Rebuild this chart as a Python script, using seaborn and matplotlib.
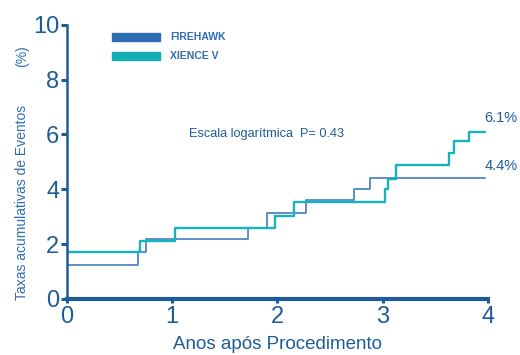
import matplotlib
matplotlib.use("Agg")
import matplotlib.pyplot as plt
import seaborn as sns
import pandas as pd

# Cumulative event rates (%) by years after the procedure
firehawk_years = [0.0, 0.674, 0.75, 1.72, 1.90, 2.27, 2.73, 2.88, 3.97]
firehawk_rate = [1.24, 1.70, 2.19, 2.60, 3.12, 3.60, 4.00, 4.4, 4.4]

xience_years = [0.0, 0.697, 1.03, 1.98, 2.16, 3.02, 3.05, 3.13, 3.63, 3.68, 3.82, 3.97]
xience_rate = [1.70, 2.13, 2.58, 3.03, 3.55, 4.00, 4.38, 4.87, 5.34, 5.78, 6.1, 6.1]

series_names = ["FIREHAWK", "XIENCE V"]
x_ticks = [0, 1, 2, 3, 4]
y_ticks = [0, 2, 4, 6, 8, 10]

sns.set_style("white")
plt.rcParams["font.family"] = ["Liberation Sans", "DejaVu Sans"]

DARK = "#1d5c99"
BLUE_LINE = "#5286c4"
CYAN_LINE = "#17b3bd"
BLUE_KEY = "#2f6db3"
CYAN_KEY = "#12adb5"

df = pd.concat([
    pd.DataFrame({"anos": firehawk_years, "taxa": firehawk_rate, "stent": series_names[0]}),
    pd.DataFrame({"anos": xience_years, "taxa": xience_rate, "stent": series_names[1]}),
], ignore_index=True)

fig = plt.figure(figsize=(5.2, 3.55), dpi=100)
ax = fig.add_axes([0.129, 0.158, 0.809, 0.772])

sns.lineplot(data=df[df.stent == series_names[0]], x="anos", y="taxa", ax=ax,
             color=BLUE_LINE, lw=1.3, drawstyle="steps-post", estimator=None,
             sort=False, legend=False)
sns.lineplot(data=df[df.stent == series_names[1]], x="anos", y="taxa", ax=ax,
             color=CYAN_LINE, lw=1.7, drawstyle="steps-post", estimator=None,
             sort=False, legend=False)

ax.set_xlim(0, 4)
ax.set_ylim(0, 10)
ax.set_xticks(x_ticks)
ax.set_yticks(y_ticks)
ax.set_xticklabels([str(v) for v in x_ticks])
ax.set_yticklabels([str(v) for v in y_ticks])

for side in ["top", "right"]:
    ax.spines[side].set_visible(False)
ax.spines["left"].set_color(DARK)
ax.spines["left"].set_linewidth(1.8)
ax.spines["bottom"].set_color(DARK)
ax.spines["bottom"].set_linewidth(3.0)
ax.spines["left"].set_zorder(5)
ax.spines["bottom"].set_zorder(5)

ax.tick_params(axis="y", direction="out", length=4, width=2.2, color=DARK,
               labelcolor=DARK, labelsize=17, pad=1.5, left=True)
ax.tick_params(axis="x", direction="out", length=3, width=2.2, color=DARK,
               labelcolor=DARK, labelsize=17, pad=2, bottom=True)

ax.set_xlabel("Anos após Procedimento", fontsize=13.5, color=DARK, labelpad=6)
ax.set_ylabel("")
fig.text(0.042, 0.431, "Taxas acumulativas de Eventos", rotation=90,
         ha="center", va="center", fontsize=10, color="#2f6db3")
fig.text(0.042, 0.842, "(%)", rotation=90, ha="center", va="center",
         fontsize=10, color="#2f6db3")

# Legend keys drawn as thick bars
fig.patches.append(plt.Rectangle((112 / 520, 1 - 41 / 355), 48 / 520, 8 / 355,
                                 transform=fig.transFigure, color=BLUE_KEY))
fig.patches.append(plt.Rectangle((112 / 520, 1 - 60 / 355), 48 / 520, 8 / 355,
                                 transform=fig.transFigure, color=CYAN_KEY))
fig.text(170 / 520, 1 - 37 / 355, series_names[0], fontsize=7.5, fontweight="bold",
         color=BLUE_KEY, va="center", ha="left")
fig.text(170 / 520, 1 - 56 / 355, series_names[1], fontsize=7.5, fontweight="bold",
         color=BLUE_KEY, va="center", ha="left")

ax.text(1.16, 6.0, "Escala logarítmica  P= 0.43", fontsize=9.2, color=DARK,
        ha="left", va="center")
ax.text(3.97, xience_rate[-1] + 0.5, f"{xience_rate[-1]:.1f}%", fontsize=10.5,
        color=DARK, ha="left", va="center", clip_on=False)
ax.text(3.97, firehawk_rate[-1] + 0.45, f"{firehawk_rate[-1]:.1f}%", fontsize=10.5,
        color=DARK, ha="left", va="center", clip_on=False)

fig.savefig("out.png", dpi=100)
